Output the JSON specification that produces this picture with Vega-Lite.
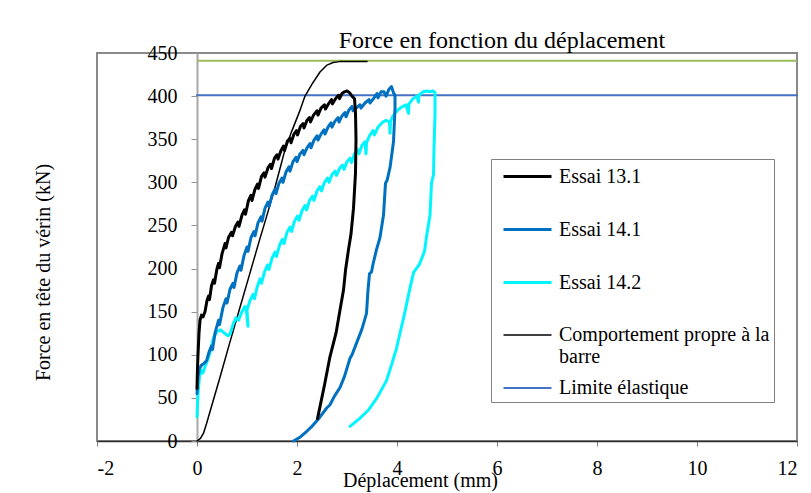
{
  "$schema": "https://vega.github.io/schema/vega-lite/v6.json",
  "width": 700,
  "height": 388,
  "autosize": {"type": "none"},
  "padding": {"left": 97, "top": 53, "right": 14, "bottom": 52},
  "background": "white",
  "config": {
    "font": "Liberation Serif",
    "view": {"stroke": "#8a8a8a", "strokeWidth": 2}
  },
  "title": {
    "text": "Force en fonction du déplacement",
    "font": "Liberation Serif",
    "fontSize": 24,
    "fontWeight": "normal",
    "color": "#000000",
    "anchor": "middle",
    "frame": "group",
    "dx": 55,
    "dy": 35,
    "baseline": "alphabetic",
    "offset": 6
  },
  "layer": [
    {
      "data": {"values": [{"a": 1}]},
      "mark": {"type": "rule", "color": "#9BBB59", "strokeWidth": 2},
      "encoding": {
        "x": {"datum": 0, "type": "quantitative"},
        "x2": {"datum": 12},
        "y": {"datum": 441, "type": "quantitative"}
      }
    },
    {
      "data": {"values": [
        {"s":"Limite élastique","i":0,"x":0,"y":401},
        {"s":"Limite élastique","i":1,"x":12,"y":401},
        {"s":"Comportement propre à la barre","i":0,"x":0.00,"y":0},
        {"s":"Comportement propre à la barre","i":1,"x":0.07,"y":3},
        {"s":"Comportement propre à la barre","i":2,"x":0.13,"y":9},
        {"s":"Comportement propre à la barre","i":3,"x":0.19,"y":20},
        {"s":"Comportement propre à la barre","i":4,"x":0.30,"y":42},
        {"s":"Comportement propre à la barre","i":5,"x":0.45,"y":72},
        {"s":"Comportement propre à la barre","i":6,"x":0.66,"y":115},
        {"s":"Comportement propre à la barre","i":7,"x":0.85,"y":153},
        {"s":"Comportement propre à la barre","i":8,"x":1.05,"y":193},
        {"s":"Comportement propre à la barre","i":9,"x":1.25,"y":233},
        {"s":"Comportement propre à la barre","i":10,"x":1.40,"y":262},
        {"s":"Comportement propre à la barre","i":11,"x":1.55,"y":292},
        {"s":"Comportement propre à la barre","i":12,"x":1.66,"y":316},
        {"s":"Comportement propre à la barre","i":13,"x":1.76,"y":338},
        {"s":"Comportement propre à la barre","i":14,"x":1.90,"y":360},
        {"s":"Comportement propre à la barre","i":15,"x":2.05,"y":382},
        {"s":"Comportement propre à la barre","i":16,"x":2.16,"y":400},
        {"s":"Comportement propre à la barre","i":17,"x":2.30,"y":414},
        {"s":"Comportement propre à la barre","i":18,"x":2.46,"y":428},
        {"s":"Comportement propre à la barre","i":19,"x":2.60,"y":436},
        {"s":"Comportement propre à la barre","i":20,"x":2.72,"y":439},
        {"s":"Comportement propre à la barre","i":21,"x":2.85,"y":440},
        {"s":"Comportement propre à la barre","i":22,"x":3.00,"y":440},
        {"s":"Comportement propre à la barre","i":23,"x":3.40,"y":440},
        {"s":"Essai 14.2","i":0,"x":0.00,"y":28},
        {"s":"Essai 14.2","i":1,"x":0.02,"y":55},
        {"s":"Essai 14.2","i":2,"x":0.05,"y":75},
        {"s":"Essai 14.2","i":3,"x":0.09,"y":82},
        {"s":"Essai 14.2","i":4,"x":0.12,"y":79},
        {"s":"Essai 14.2","i":5,"x":0.17,"y":88},
        {"s":"Essai 14.2","i":6,"x":0.22,"y":95},
        {"s":"Essai 14.2","i":7,"x":0.27,"y":105},
        {"s":"Essai 14.2","i":8,"x":0.33,"y":120},
        {"s":"Essai 14.2","i":9,"x":0.40,"y":127},
        {"s":"Essai 14.2","i":10,"x":0.47,"y":129},
        {"s":"Essai 14.2","i":11,"x":0.55,"y":125},
        {"s":"Essai 14.2","i":12,"x":0.62,"y":122},
        {"s":"Essai 14.2","i":13,"x":0.66,"y":124},
        {"s":"Essai 14.2","i":14,"x":0.72,"y":135},
        {"s":"Essai 14.2","i":15,"x":0.78,"y":143},
        {"s":"Essai 14.2","i":16,"x":0.83,"y":140},
        {"s":"Essai 14.2","i":17,"x":0.90,"y":150},
        {"s":"Essai 14.2","i":18,"x":0.96,"y":156},
        {"s":"Essai 14.2","i":19,"x":0.99,"y":150},
        {"s":"Essai 14.2","i":20,"x":1.02,"y":133},
        {"s":"Essai 14.2","i":21,"x":1.00,"y":152},
        {"s":"Essai 14.2","i":22,"x":1.06,"y":163},
        {"s":"Essai 14.2","i":23,"x":1.12,"y":170},
        {"s":"Essai 14.2","i":24,"x":1.15,"y":165},
        {"s":"Essai 14.2","i":25,"x":1.20,"y":178},
        {"s":"Essai 14.2","i":26,"x":1.26,"y":188},
        {"s":"Essai 14.2","i":27,"x":1.29,"y":183},
        {"s":"Essai 14.2","i":28,"x":1.35,"y":196},
        {"s":"Essai 14.2","i":29,"x":1.41,"y":204},
        {"s":"Essai 14.2","i":30,"x":1.44,"y":199},
        {"s":"Essai 14.2","i":31,"x":1.50,"y":212},
        {"s":"Essai 14.2","i":32,"x":1.56,"y":219},
        {"s":"Essai 14.2","i":33,"x":1.59,"y":214},
        {"s":"Essai 14.2","i":34,"x":1.65,"y":227},
        {"s":"Essai 14.2","i":35,"x":1.71,"y":234},
        {"s":"Essai 14.2","i":36,"x":1.74,"y":229},
        {"s":"Essai 14.2","i":37,"x":1.80,"y":242},
        {"s":"Essai 14.2","i":38,"x":1.86,"y":248},
        {"s":"Essai 14.2","i":39,"x":1.89,"y":243},
        {"s":"Essai 14.2","i":40,"x":1.95,"y":255},
        {"s":"Essai 14.2","i":41,"x":2.01,"y":261},
        {"s":"Essai 14.2","i":42,"x":2.04,"y":256},
        {"s":"Essai 14.2","i":43,"x":2.10,"y":267},
        {"s":"Essai 14.2","i":44,"x":2.16,"y":273},
        {"s":"Essai 14.2","i":45,"x":2.19,"y":268},
        {"s":"Essai 14.2","i":46,"x":2.25,"y":279},
        {"s":"Essai 14.2","i":47,"x":2.31,"y":284},
        {"s":"Essai 14.2","i":48,"x":2.34,"y":279},
        {"s":"Essai 14.2","i":49,"x":2.40,"y":290},
        {"s":"Essai 14.2","i":50,"x":2.46,"y":295},
        {"s":"Essai 14.2","i":51,"x":2.49,"y":290},
        {"s":"Essai 14.2","i":52,"x":2.55,"y":300},
        {"s":"Essai 14.2","i":53,"x":2.61,"y":305},
        {"s":"Essai 14.2","i":54,"x":2.64,"y":300},
        {"s":"Essai 14.2","i":55,"x":2.70,"y":309},
        {"s":"Essai 14.2","i":56,"x":2.76,"y":313},
        {"s":"Essai 14.2","i":57,"x":2.79,"y":308},
        {"s":"Essai 14.2","i":58,"x":2.85,"y":316},
        {"s":"Essai 14.2","i":59,"x":2.91,"y":320},
        {"s":"Essai 14.2","i":60,"x":2.94,"y":315},
        {"s":"Essai 14.2","i":61,"x":3.00,"y":324},
        {"s":"Essai 14.2","i":62,"x":3.06,"y":328},
        {"s":"Essai 14.2","i":63,"x":3.09,"y":323},
        {"s":"Essai 14.2","i":64,"x":3.15,"y":333},
        {"s":"Essai 14.2","i":65,"x":3.21,"y":338},
        {"s":"Essai 14.2","i":66,"x":3.24,"y":333},
        {"s":"Essai 14.2","i":67,"x":3.30,"y":343},
        {"s":"Essai 14.2","i":68,"x":3.36,"y":347},
        {"s":"Essai 14.2","i":69,"x":3.38,"y":333},
        {"s":"Essai 14.2","i":70,"x":3.39,"y":346},
        {"s":"Essai 14.2","i":71,"x":3.45,"y":354},
        {"s":"Essai 14.2","i":72,"x":3.52,"y":360},
        {"s":"Essai 14.2","i":73,"x":3.55,"y":355},
        {"s":"Essai 14.2","i":74,"x":3.62,"y":364},
        {"s":"Essai 14.2","i":75,"x":3.70,"y":369},
        {"s":"Essai 14.2","i":76,"x":3.78,"y":372},
        {"s":"Essai 14.2","i":77,"x":3.85,"y":370},
        {"s":"Essai 14.2","i":78,"x":3.86,"y":357},
        {"s":"Essai 14.2","i":79,"x":3.87,"y":371},
        {"s":"Essai 14.2","i":80,"x":3.92,"y":377},
        {"s":"Essai 14.2","i":81,"x":4.00,"y":383},
        {"s":"Essai 14.2","i":82,"x":4.08,"y":387},
        {"s":"Essai 14.2","i":83,"x":4.18,"y":390},
        {"s":"Essai 14.2","i":84,"x":4.23,"y":380},
        {"s":"Essai 14.2","i":85,"x":4.24,"y":391},
        {"s":"Essai 14.2","i":86,"x":4.32,"y":397},
        {"s":"Essai 14.2","i":87,"x":4.40,"y":400},
        {"s":"Essai 14.2","i":88,"x":4.43,"y":393},
        {"s":"Essai 14.2","i":89,"x":4.44,"y":401},
        {"s":"Essai 14.2","i":90,"x":4.52,"y":405},
        {"s":"Essai 14.2","i":91,"x":4.60,"y":406},
        {"s":"Essai 14.2","i":92,"x":4.66,"y":405},
        {"s":"Essai 14.2","i":93,"x":4.72,"y":406},
        {"s":"Essai 14.2","i":94,"x":4.76,"y":404},
        {"s":"Essai 14.2","i":95,"x":4.76,"y":378},
        {"s":"Essai 14.2","i":96,"x":4.74,"y":340},
        {"s":"Essai 14.2","i":97,"x":4.73,"y":309},
        {"s":"Essai 14.2","i":98,"x":4.69,"y":299},
        {"s":"Essai 14.2","i":99,"x":4.66,"y":262},
        {"s":"Essai 14.2","i":100,"x":4.59,"y":237},
        {"s":"Essai 14.2","i":101,"x":4.55,"y":220},
        {"s":"Essai 14.2","i":102,"x":4.45,"y":205},
        {"s":"Essai 14.2","i":103,"x":4.36,"y":198},
        {"s":"Essai 14.2","i":104,"x":4.33,"y":195},
        {"s":"Essai 14.2","i":105,"x":4.25,"y":175},
        {"s":"Essai 14.2","i":106,"x":4.16,"y":150},
        {"s":"Essai 14.2","i":107,"x":4.06,"y":125},
        {"s":"Essai 14.2","i":108,"x":3.98,"y":105},
        {"s":"Essai 14.2","i":109,"x":3.96,"y":102},
        {"s":"Essai 14.2","i":110,"x":3.90,"y":90},
        {"s":"Essai 14.2","i":111,"x":3.79,"y":70},
        {"s":"Essai 14.2","i":112,"x":3.60,"y":50},
        {"s":"Essai 14.2","i":113,"x":3.43,"y":36},
        {"s":"Essai 14.2","i":114,"x":3.25,"y":26},
        {"s":"Essai 14.2","i":115,"x":3.06,"y":17},
        {"s":"Essai 14.1","i":0,"x":0.00,"y":55},
        {"s":"Essai 14.1","i":1,"x":0.02,"y":75},
        {"s":"Essai 14.1","i":2,"x":0.05,"y":84},
        {"s":"Essai 14.1","i":3,"x":0.09,"y":88},
        {"s":"Essai 14.1","i":4,"x":0.14,"y":90},
        {"s":"Essai 14.1","i":5,"x":0.19,"y":93},
        {"s":"Essai 14.1","i":6,"x":0.24,"y":103},
        {"s":"Essai 14.1","i":7,"x":0.29,"y":110},
        {"s":"Essai 14.1","i":8,"x":0.31,"y":106},
        {"s":"Essai 14.1","i":9,"x":0.36,"y":125},
        {"s":"Essai 14.1","i":10,"x":0.43,"y":140},
        {"s":"Essai 14.1","i":11,"x":0.45,"y":135},
        {"s":"Essai 14.1","i":12,"x":0.52,"y":155},
        {"s":"Essai 14.1","i":13,"x":0.58,"y":165},
        {"s":"Essai 14.1","i":14,"x":0.60,"y":160},
        {"s":"Essai 14.1","i":15,"x":0.66,"y":176},
        {"s":"Essai 14.1","i":16,"x":0.72,"y":183},
        {"s":"Essai 14.1","i":17,"x":0.74,"y":178},
        {"s":"Essai 14.1","i":18,"x":0.80,"y":195},
        {"s":"Essai 14.1","i":19,"x":0.86,"y":203},
        {"s":"Essai 14.1","i":20,"x":0.88,"y":198},
        {"s":"Essai 14.1","i":21,"x":0.94,"y":215},
        {"s":"Essai 14.1","i":22,"x":1.00,"y":225},
        {"s":"Essai 14.1","i":23,"x":1.02,"y":220},
        {"s":"Essai 14.1","i":24,"x":1.08,"y":236},
        {"s":"Essai 14.1","i":25,"x":1.14,"y":243},
        {"s":"Essai 14.1","i":26,"x":1.16,"y":238},
        {"s":"Essai 14.1","i":27,"x":1.22,"y":253},
        {"s":"Essai 14.1","i":28,"x":1.28,"y":260},
        {"s":"Essai 14.1","i":29,"x":1.30,"y":255},
        {"s":"Essai 14.1","i":30,"x":1.36,"y":270},
        {"s":"Essai 14.1","i":31,"x":1.42,"y":277},
        {"s":"Essai 14.1","i":32,"x":1.44,"y":272},
        {"s":"Essai 14.1","i":33,"x":1.50,"y":285},
        {"s":"Essai 14.1","i":34,"x":1.56,"y":292},
        {"s":"Essai 14.1","i":35,"x":1.58,"y":287},
        {"s":"Essai 14.1","i":36,"x":1.64,"y":299},
        {"s":"Essai 14.1","i":37,"x":1.70,"y":305},
        {"s":"Essai 14.1","i":38,"x":1.72,"y":300},
        {"s":"Essai 14.1","i":39,"x":1.78,"y":312},
        {"s":"Essai 14.1","i":40,"x":1.84,"y":318},
        {"s":"Essai 14.1","i":41,"x":1.86,"y":313},
        {"s":"Essai 14.1","i":42,"x":1.92,"y":324},
        {"s":"Essai 14.1","i":43,"x":1.98,"y":329},
        {"s":"Essai 14.1","i":44,"x":2.00,"y":324},
        {"s":"Essai 14.1","i":45,"x":2.06,"y":333},
        {"s":"Essai 14.1","i":46,"x":2.12,"y":337},
        {"s":"Essai 14.1","i":47,"x":2.14,"y":332},
        {"s":"Essai 14.1","i":48,"x":2.20,"y":340},
        {"s":"Essai 14.1","i":49,"x":2.26,"y":345},
        {"s":"Essai 14.1","i":50,"x":2.28,"y":340},
        {"s":"Essai 14.1","i":51,"x":2.34,"y":349},
        {"s":"Essai 14.1","i":52,"x":2.40,"y":354},
        {"s":"Essai 14.1","i":53,"x":2.42,"y":349},
        {"s":"Essai 14.1","i":54,"x":2.48,"y":356},
        {"s":"Essai 14.1","i":55,"x":2.54,"y":361},
        {"s":"Essai 14.1","i":56,"x":2.56,"y":356},
        {"s":"Essai 14.1","i":57,"x":2.62,"y":364},
        {"s":"Essai 14.1","i":58,"x":2.68,"y":369},
        {"s":"Essai 14.1","i":59,"x":2.70,"y":364},
        {"s":"Essai 14.1","i":60,"x":2.76,"y":371},
        {"s":"Essai 14.1","i":61,"x":2.82,"y":375},
        {"s":"Essai 14.1","i":62,"x":2.84,"y":370},
        {"s":"Essai 14.1","i":63,"x":2.90,"y":377},
        {"s":"Essai 14.1","i":64,"x":2.96,"y":381},
        {"s":"Essai 14.1","i":65,"x":2.98,"y":376},
        {"s":"Essai 14.1","i":66,"x":3.04,"y":384},
        {"s":"Essai 14.1","i":67,"x":3.10,"y":388},
        {"s":"Essai 14.1","i":68,"x":3.12,"y":383},
        {"s":"Essai 14.1","i":69,"x":3.20,"y":387},
        {"s":"Essai 14.1","i":70,"x":3.26,"y":390},
        {"s":"Essai 14.1","i":71,"x":3.28,"y":386},
        {"s":"Essai 14.1","i":72,"x":3.36,"y":392},
        {"s":"Essai 14.1","i":73,"x":3.44,"y":396},
        {"s":"Essai 14.1","i":74,"x":3.46,"y":392},
        {"s":"Essai 14.1","i":75,"x":3.54,"y":398},
        {"s":"Essai 14.1","i":76,"x":3.60,"y":403},
        {"s":"Essai 14.1","i":77,"x":3.62,"y":398},
        {"s":"Essai 14.1","i":78,"x":3.68,"y":405},
        {"s":"Essai 14.1","i":79,"x":3.74,"y":405},
        {"s":"Essai 14.1","i":80,"x":3.78,"y":400},
        {"s":"Essai 14.1","i":81,"x":3.84,"y":408},
        {"s":"Essai 14.1","i":82,"x":3.89,"y":411},
        {"s":"Essai 14.1","i":83,"x":3.93,"y":404},
        {"s":"Essai 14.1","i":84,"x":3.96,"y":401},
        {"s":"Essai 14.1","i":85,"x":3.96,"y":386},
        {"s":"Essai 14.1","i":86,"x":3.93,"y":347},
        {"s":"Essai 14.1","i":87,"x":3.86,"y":317},
        {"s":"Essai 14.1","i":88,"x":3.80,"y":302},
        {"s":"Essai 14.1","i":89,"x":3.77,"y":299},
        {"s":"Essai 14.1","i":90,"x":3.73,"y":262},
        {"s":"Essai 14.1","i":91,"x":3.66,"y":236},
        {"s":"Essai 14.1","i":92,"x":3.59,"y":222},
        {"s":"Essai 14.1","i":93,"x":3.52,"y":205},
        {"s":"Essai 14.1","i":94,"x":3.49,"y":196},
        {"s":"Essai 14.1","i":95,"x":3.45,"y":194},
        {"s":"Essai 14.1","i":96,"x":3.42,"y":175},
        {"s":"Essai 14.1","i":97,"x":3.39,"y":148},
        {"s":"Essai 14.1","i":98,"x":3.30,"y":130},
        {"s":"Essai 14.1","i":99,"x":3.20,"y":115},
        {"s":"Essai 14.1","i":100,"x":3.10,"y":100},
        {"s":"Essai 14.1","i":101,"x":3.06,"y":96},
        {"s":"Essai 14.1","i":102,"x":2.95,"y":75},
        {"s":"Essai 14.1","i":103,"x":2.86,"y":62},
        {"s":"Essai 14.1","i":104,"x":2.75,"y":52},
        {"s":"Essai 14.1","i":105,"x":2.66,"y":42},
        {"s":"Essai 14.1","i":106,"x":2.59,"y":38},
        {"s":"Essai 14.1","i":107,"x":2.45,"y":27},
        {"s":"Essai 14.1","i":108,"x":2.30,"y":17},
        {"s":"Essai 14.1","i":109,"x":2.19,"y":11},
        {"s":"Essai 14.1","i":110,"x":2.05,"y":4},
        {"s":"Essai 14.1","i":111,"x":1.93,"y":0},
        {"s":"Essai 13.1","i":0,"x":0.00,"y":61},
        {"s":"Essai 13.1","i":1,"x":0.01,"y":85},
        {"s":"Essai 13.1","i":2,"x":0.02,"y":100},
        {"s":"Essai 13.1","i":3,"x":0.04,"y":125},
        {"s":"Essai 13.1","i":4,"x":0.06,"y":140},
        {"s":"Essai 13.1","i":5,"x":0.09,"y":146},
        {"s":"Essai 13.1","i":6,"x":0.12,"y":144},
        {"s":"Essai 13.1","i":7,"x":0.16,"y":150},
        {"s":"Essai 13.1","i":8,"x":0.20,"y":163},
        {"s":"Essai 13.1","i":9,"x":0.23,"y":168},
        {"s":"Essai 13.1","i":10,"x":0.25,"y":164},
        {"s":"Essai 13.1","i":11,"x":0.29,"y":180},
        {"s":"Essai 13.1","i":12,"x":0.33,"y":187},
        {"s":"Essai 13.1","i":13,"x":0.35,"y":183},
        {"s":"Essai 13.1","i":14,"x":0.40,"y":200},
        {"s":"Essai 13.1","i":15,"x":0.43,"y":206},
        {"s":"Essai 13.1","i":16,"x":0.45,"y":201},
        {"s":"Essai 13.1","i":17,"x":0.50,"y":217},
        {"s":"Essai 13.1","i":18,"x":0.56,"y":229},
        {"s":"Essai 13.1","i":19,"x":0.58,"y":224},
        {"s":"Essai 13.1","i":20,"x":0.63,"y":236},
        {"s":"Essai 13.1","i":21,"x":0.69,"y":242},
        {"s":"Essai 13.1","i":22,"x":0.71,"y":238},
        {"s":"Essai 13.1","i":23,"x":0.77,"y":249},
        {"s":"Essai 13.1","i":24,"x":0.82,"y":254},
        {"s":"Essai 13.1","i":25,"x":0.84,"y":249},
        {"s":"Essai 13.1","i":26,"x":0.90,"y":262},
        {"s":"Essai 13.1","i":27,"x":0.95,"y":268},
        {"s":"Essai 13.1","i":28,"x":0.97,"y":263},
        {"s":"Essai 13.1","i":29,"x":1.03,"y":279},
        {"s":"Essai 13.1","i":30,"x":1.08,"y":285},
        {"s":"Essai 13.1","i":31,"x":1.10,"y":279},
        {"s":"Essai 13.1","i":32,"x":1.16,"y":292},
        {"s":"Essai 13.1","i":33,"x":1.21,"y":298},
        {"s":"Essai 13.1","i":34,"x":1.23,"y":293},
        {"s":"Essai 13.1","i":35,"x":1.29,"y":307},
        {"s":"Essai 13.1","i":36,"x":1.34,"y":311},
        {"s":"Essai 13.1","i":37,"x":1.36,"y":306},
        {"s":"Essai 13.1","i":38,"x":1.42,"y":317},
        {"s":"Essai 13.1","i":39,"x":1.47,"y":321},
        {"s":"Essai 13.1","i":40,"x":1.49,"y":316},
        {"s":"Essai 13.1","i":41,"x":1.55,"y":328},
        {"s":"Essai 13.1","i":42,"x":1.60,"y":332},
        {"s":"Essai 13.1","i":43,"x":1.62,"y":327},
        {"s":"Essai 13.1","i":44,"x":1.68,"y":337},
        {"s":"Essai 13.1","i":45,"x":1.73,"y":342},
        {"s":"Essai 13.1","i":46,"x":1.75,"y":337},
        {"s":"Essai 13.1","i":47,"x":1.81,"y":348},
        {"s":"Essai 13.1","i":48,"x":1.86,"y":351},
        {"s":"Essai 13.1","i":49,"x":1.88,"y":346},
        {"s":"Essai 13.1","i":50,"x":1.94,"y":356},
        {"s":"Essai 13.1","i":51,"x":1.99,"y":360},
        {"s":"Essai 13.1","i":52,"x":2.01,"y":355},
        {"s":"Essai 13.1","i":53,"x":2.07,"y":365},
        {"s":"Essai 13.1","i":54,"x":2.12,"y":368},
        {"s":"Essai 13.1","i":55,"x":2.14,"y":363},
        {"s":"Essai 13.1","i":56,"x":2.20,"y":372},
        {"s":"Essai 13.1","i":57,"x":2.25,"y":375},
        {"s":"Essai 13.1","i":58,"x":2.27,"y":370},
        {"s":"Essai 13.1","i":59,"x":2.33,"y":378},
        {"s":"Essai 13.1","i":60,"x":2.40,"y":383},
        {"s":"Essai 13.1","i":61,"x":2.42,"y":378},
        {"s":"Essai 13.1","i":62,"x":2.48,"y":386},
        {"s":"Essai 13.1","i":63,"x":2.55,"y":390},
        {"s":"Essai 13.1","i":64,"x":2.57,"y":385},
        {"s":"Essai 13.1","i":65,"x":2.63,"y":391},
        {"s":"Essai 13.1","i":66,"x":2.69,"y":396},
        {"s":"Essai 13.1","i":67,"x":2.71,"y":391},
        {"s":"Essai 13.1","i":68,"x":2.77,"y":397},
        {"s":"Essai 13.1","i":69,"x":2.83,"y":401},
        {"s":"Essai 13.1","i":70,"x":2.85,"y":397},
        {"s":"Essai 13.1","i":71,"x":2.90,"y":403},
        {"s":"Essai 13.1","i":72,"x":2.95,"y":405},
        {"s":"Essai 13.1","i":73,"x":3.00,"y":406},
        {"s":"Essai 13.1","i":74,"x":3.05,"y":404},
        {"s":"Essai 13.1","i":75,"x":3.10,"y":400},
        {"s":"Essai 13.1","i":76,"x":3.15,"y":397},
        {"s":"Essai 13.1","i":77,"x":3.17,"y":380},
        {"s":"Essai 13.1","i":78,"x":3.18,"y":350},
        {"s":"Essai 13.1","i":79,"x":3.17,"y":311},
        {"s":"Essai 13.1","i":80,"x":3.13,"y":270},
        {"s":"Essai 13.1","i":81,"x":3.08,"y":240},
        {"s":"Essai 13.1","i":82,"x":3.03,"y":222},
        {"s":"Essai 13.1","i":83,"x":2.98,"y":202},
        {"s":"Essai 13.1","i":84,"x":2.97,"y":198},
        {"s":"Essai 13.1","i":85,"x":2.93,"y":175},
        {"s":"Essai 13.1","i":86,"x":2.86,"y":152},
        {"s":"Essai 13.1","i":87,"x":2.78,"y":125},
        {"s":"Essai 13.1","i":88,"x":2.66,"y":98},
        {"s":"Essai 13.1","i":89,"x":2.55,"y":65},
        {"s":"Essai 13.1","i":90,"x":2.41,"y":26}
      ]},
      "mark": {"type": "line", "strokeJoin": "round", "strokeCap": "round"},
      "encoding": {
        "x": {
          "field": "x", "type": "quantitative",
          "scale": {"domain": [-2, 12], "nice": false, "zero": false},
          "axis": {
            "values": [-2, 0, 2, 4, 6, 8, 10, 12],
            "labelExpr": "replace(datum.label, '−', '-')",
            "title": "Déplacement (mm)",
            "titleFont": "Liberation Serif", "titleFontSize": 20, "titleFontWeight": "normal", "titleColor": "#000000",
            "titleX": 323, "titleY": 45, "titleBaseline": "alphabetic", "titleAlign": "center",
            "labelFont": "Liberation Serif", "labelFontSize": 20, "labelColor": "#000000", "labelPadding": 12,
            "tickSize": 5, "tickColor": "#808080",
            "domainColor": "#303030", "domainWidth": 1.5,
            "gridColor": "#d9d9d9", "gridWidth": 1
          }
        },
        "y": {
          "field": "y", "type": "quantitative",
          "scale": {"domain": [0, 450], "nice": false},
          "axis": {
            "values": [0, 50, 100, 150, 200, 250, 300, 350, 400, 450],
            "offset": -100,
            "title": "Force en tête du vérin (kN)",
            "titleFont": "Liberation Serif", "titleFontSize": 20, "titleFontWeight": "normal", "titleColor": "#000000",
            "titleX": -154, "titleY": 219, "titleAngle": -90, "titleAlign": "center", "titleBaseline": "middle",
            "labelFont": "Liberation Serif", "labelFontSize": 20, "labelColor": "#000000", "labelPadding": 14,
            "tickSize": 6, "tickColor": "#909090",
            "domainColor": "#a8a8a8", "domainWidth": 2,
            "gridColor": "#d9d9d9", "gridWidth": 1
          }
        },
        "order": {"field": "i", "type": "quantitative"},
        "color": {
          "field": "s", "type": "nominal",
          "scale": {
            "domain": ["Essai 13.1", "Essai 14.1", "Essai 14.2", "Comportement propre à la barre", "Limite élastique"],
            "range": ["#000000", "#0070C0", "#00F5FF", "#000000", "#4472C4"]
          },
          "legend": {
            "orient": "none", "legendX": 394, "legendY": 106,
            "title": null,
            "strokeColor": "#808080", "fillColor": "#ffffff",
            "padding": 4,
            "symbolType": "M-2,0H2", "symbolSize": 576, "symbolStrokeWidth": 3.5,
            "symbolOffset": 19, "labelOffset": 18,
            "labelFont": "Liberation Serif", "labelFontSize": 20, "labelColor": "#000000", "labelLimit": 320,
            "rowPadding": 8,
            "gridAlign": "all",
            "labelExpr": "datum.label == 'Comportement propre à la barre' ? ['Comportement propre à la', 'barre'] : datum.label",
            "encode": {
              "symbols": {"update": {
                "strokeWidth": {"signal": "datum.label == 'Comportement propre à la barre' || datum.label == 'Limite élastique' ? 2 : 4"}
              }}
            }
          }
        },
        "strokeWidth": {
          "field": "s", "type": "nominal",
          "scale": {
            "type": "ordinal",
            "domain": ["Essai 13.1", "Essai 14.1", "Essai 14.2", "Comportement propre à la barre", "Limite élastique"],
            "range": [3, 3, 3, 1.5, 2]
          },
          "legend": null
        }
      }
    }
  ]
}
